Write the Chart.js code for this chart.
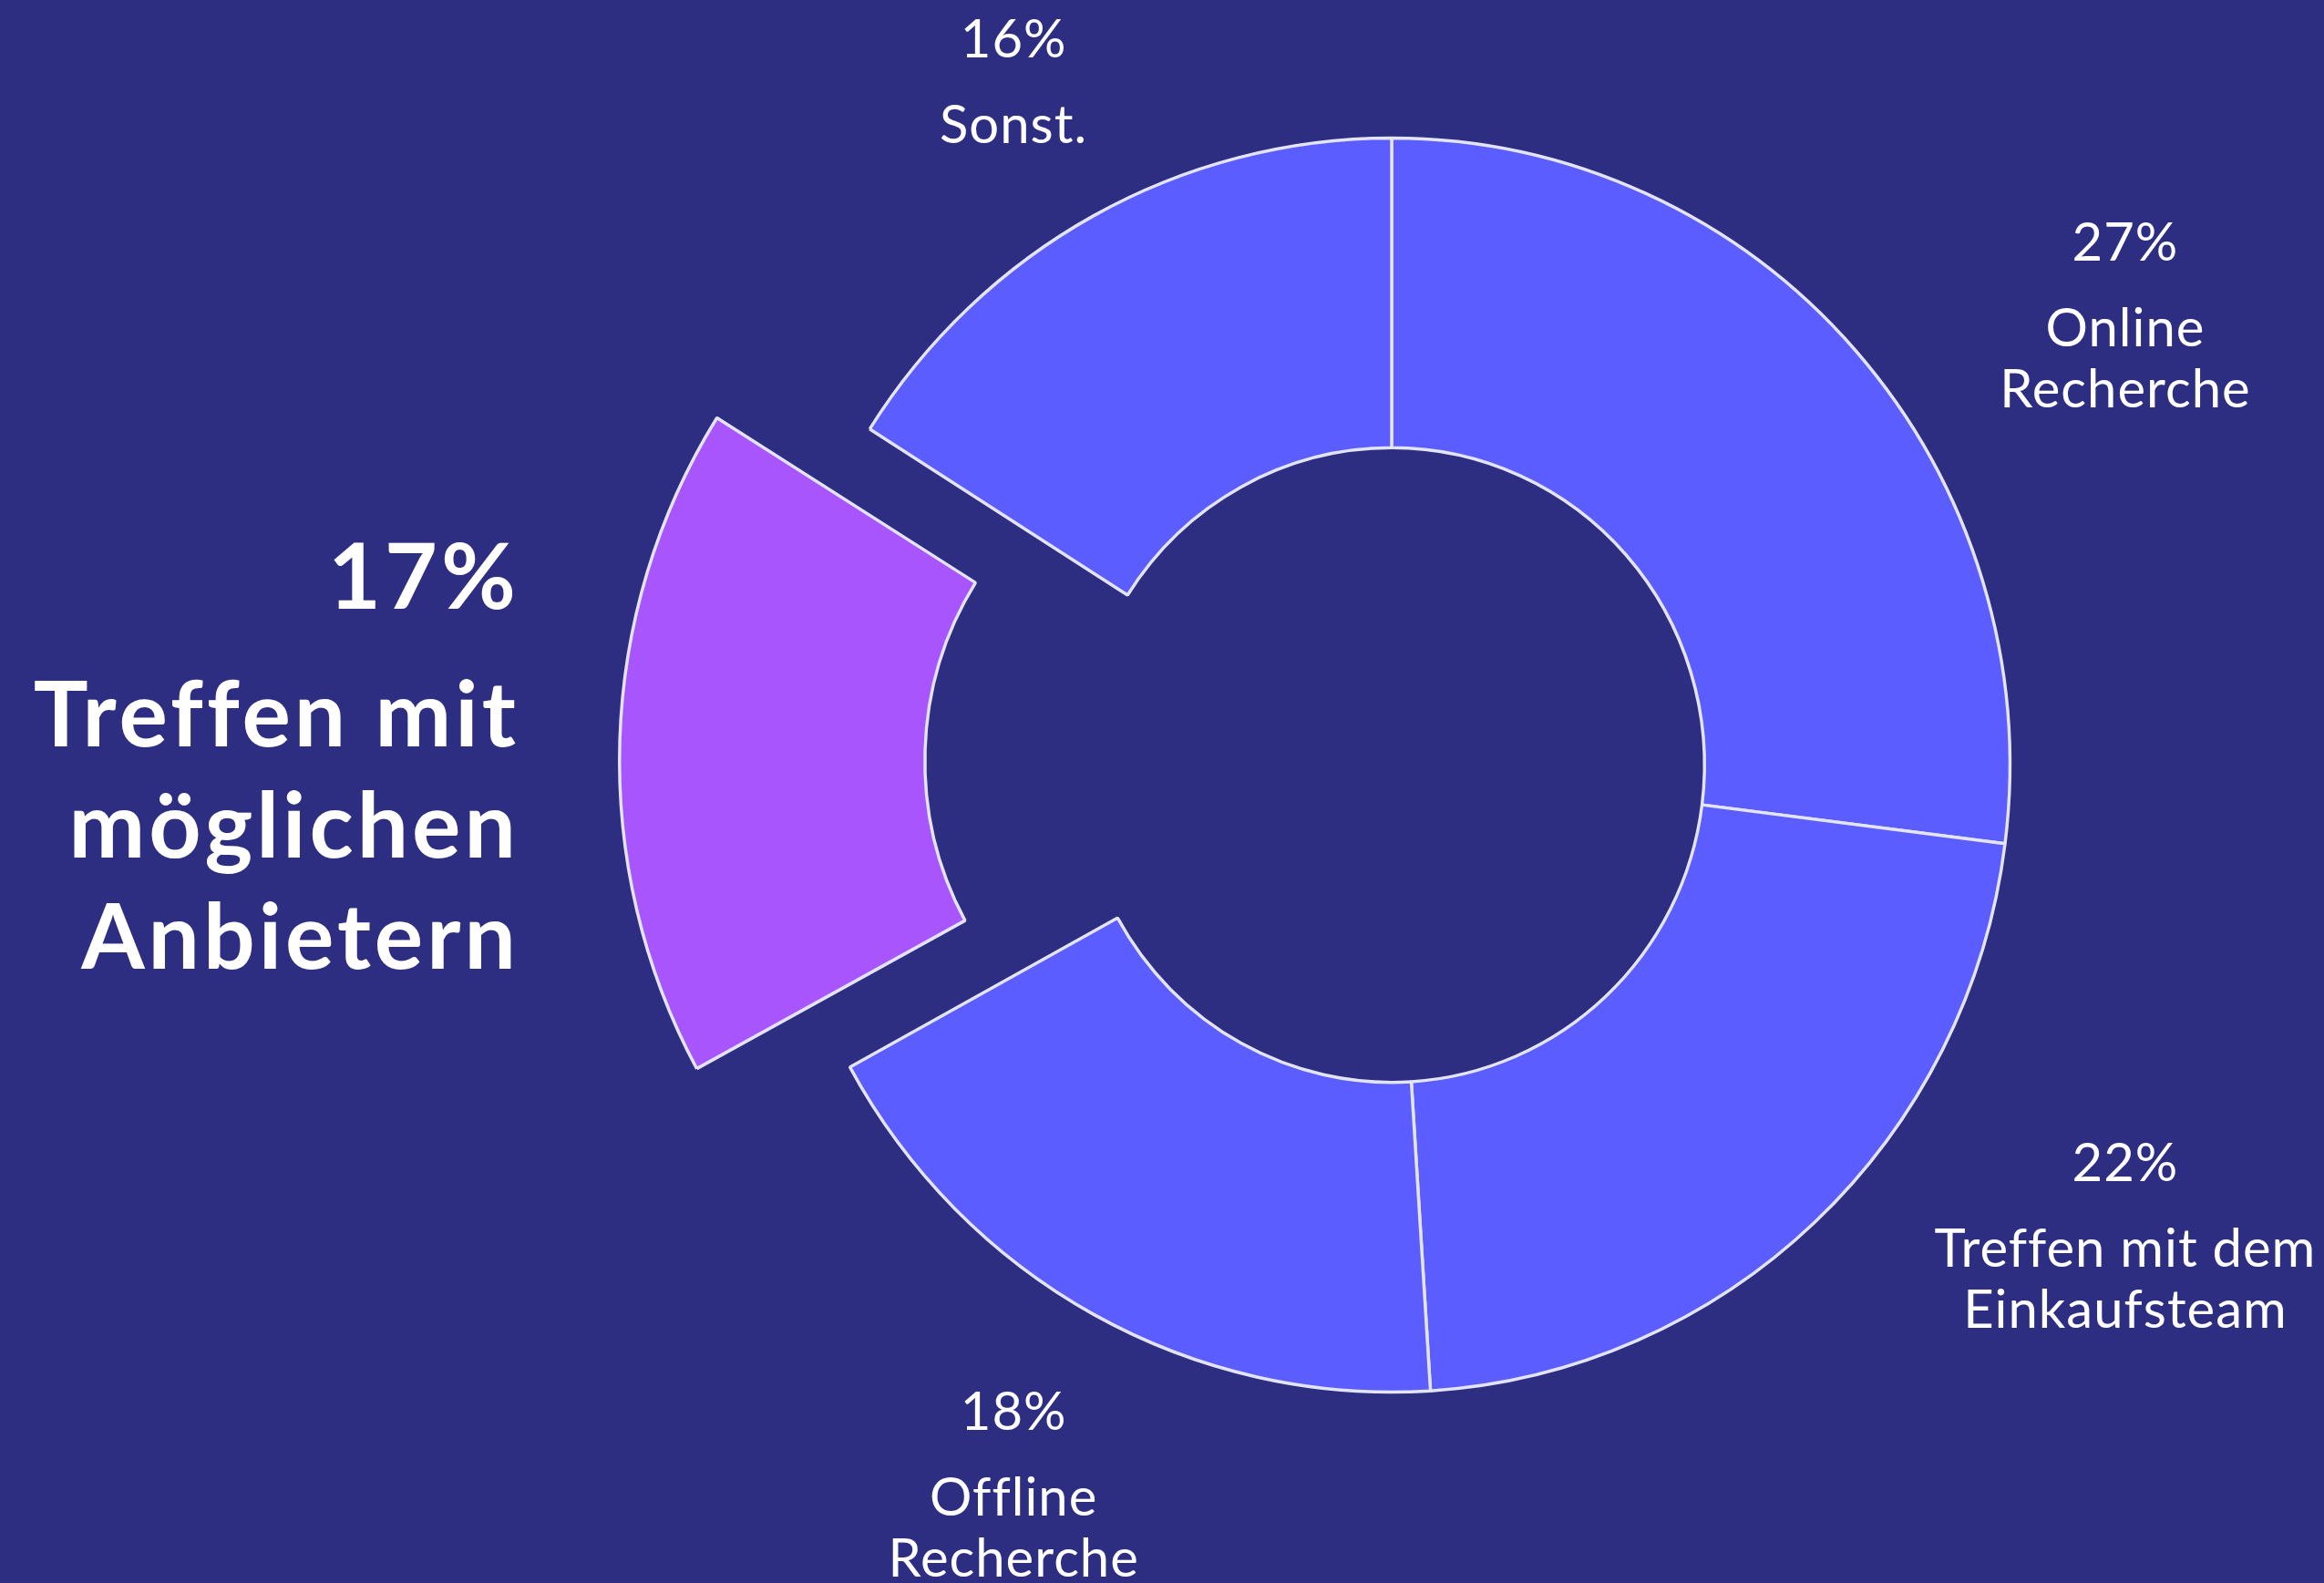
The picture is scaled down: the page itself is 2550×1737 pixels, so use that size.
<!DOCTYPE html>
<html>
<head>
<meta charset="utf-8">
<script src="https://cdn.jsdelivr.net/npm/chart.js@4.4.1/dist/chart.umd.min.js"></script>
<style>
  html, body { margin: 0; padding: 0; background: #2D2E82; }
  #wrap { width: 2550px; height: 1737px; }
</style>
</head>
<body>
<div id="wrap"><canvas id="c" width="2550" height="1737"></canvas></div>
<script>
// ---- data ----
const categories = ["Online\nRecherche", "Treffen mit dem\nEinkaufsteam", "Offline\nRecherche", "Treffen mit\nmöglichen\nAnbietern", "Sonst."];
const values = [27, 22, 18, 17, 16];
const highlighted = [false, false, false, true, false];

// ---- style ----
const BLUE = '#5B5DFF';
const PURPLE = '#A855FE';
const FONT = 'Lato, "Noto Sans", sans-serif';
const X_SQUASH = 0.986;
// label anchor offsets relative to chart centre, in units of outer radius
const labelOffsets = [[1.170, -0.804], [1.170, 0.664], [-0.603, 1.061], [-1.397, -0.25], [-0.603, -1.129]];

const squashPlugin = {
  id: 'squash',
  beforeDatasetsDraw(chart) {
    const a = chart.chartArea;
    const cx = (a.left + a.right) / 2;
    chart.ctx.save();
    chart.ctx.translate(cx, 0);
    chart.ctx.scale(X_SQUASH, 1);
    chart.ctx.translate(-cx, 0);
  },
  afterDatasetsDraw(chart) {
    chart.ctx.restore();
  }
};

const labelPlugin = {
  id: 'labels',
  afterDraw(chart) {
    const ctx = chart.ctx;
    const meta = chart.getDatasetMeta(0);
    ctx.save();
    ctx.fillStyle = '#FFFFFF';
    ctx.textBaseline = 'alphabetic';
    meta.data.forEach((arc, i) => {
      const R = 688;
      const ax = arc.x + labelOffsets[i][0] * R;
      const ay = arc.y + labelOffsets[i][1] * R;
      const lines = categories[i].split('\n');
      const pct = values[i] + '%';
      if (highlighted[i]) {
        ctx.textAlign = 'right';
        ctx.font = 'bold 100px ' + FONT;
        ctx.letterSpacing = '4px';
        ctx.fillText(pct, ax + 4, ay);
        lines.forEach((ln, j) => ctx.fillText(ln, ax + 4, ay + 151 + j * 122));
      } else {
        ctx.textAlign = 'center';
        ctx.font = '58px ' + FONT;
        ctx.letterSpacing = '1px';
        ctx.fillText(pct, ax, ay);
        lines.forEach((ln, j) => ctx.fillText(ln, ax, ay + 94 + j * 67));
      }
    });
    ctx.restore();
  }
};

new Chart(document.getElementById('c'), {
  type: 'doughnut',
  data: {
    labels: categories,
    datasets: [{
      data: values,
      backgroundColor: highlighted.map(h => h ? PURPLE : BLUE),
      borderColor: '#E4E4F8',
      borderWidth: 3.5,
      offset: highlighted.map(h => h ? 610 : 0),
      hoverOffset: 0,
      clip: false
    }]
  },
  options: {
    responsive: false,
    devicePixelRatio: 1,
    animation: false,
    radius: 688,
    cutout: '50.6%',
    layout: { padding: { left: 504, right: 0, top: 0, bottom: 58 } },
    plugins: { legend: { display: false }, tooltip: { enabled: false } },
    events: []
  },
  plugins: [squashPlugin, labelPlugin]
});
</script>
</body>
</html>
